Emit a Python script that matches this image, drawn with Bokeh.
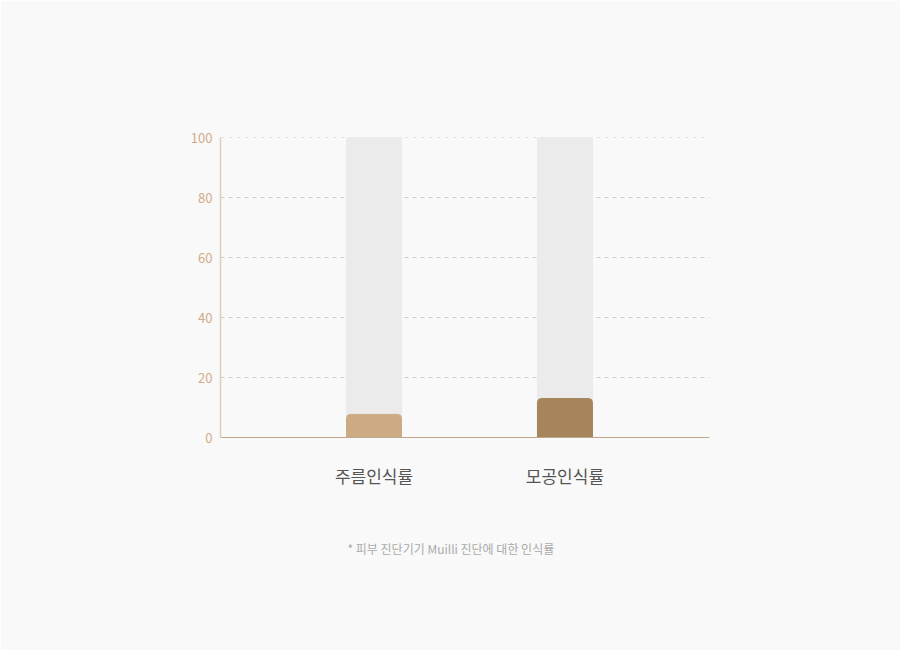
from bokeh.plotting import figure
from bokeh.models import FixedTicker, Range1d, Title
from bokeh.embed import file_html
from bokeh.resources import INLINE

# data
categories = ["주름인식률", "모공인식률"]
values = [7.7, 13]
full = [100, 100]
bar_colors = ["#ccab84", "#a6855d"]
y_ticks = [0, 20, 40, 60, 80, 100]
note = "* 피부 진단기기 Muilli 진단에 대한 인식률"

xs = list(range(len(categories)))

p = figure(
    width=900,
    height=650,
    x_range=Range1d(-0.804, 1.757),
    y_range=Range1d(0, 100.01),
    output_backend="svg",
    toolbar_location=None,
    tools="",
    min_border_left=220,
    min_border_right=191,
    min_border_top=137,
    min_border_bottom=213,
)
p.background_fill_color = "#f9f9f9"
p.border_fill_color = "#f9f9f9"
p.outline_line_color = None

# grey track behind each bar
p.vbar(x=xs, top=full, bottom=0, width=0.288, color="#ebebeb")
p.vbar(x=xs, top=values, bottom=0, width=0.288, color=bar_colors,
       border_radius=(4, 4, 0, 0))

font = "Noto Sans CJK KR"

p.xaxis.ticker = FixedTicker(ticks=xs)
p.xaxis.major_label_overrides = {i: c for i, c in zip(xs, categories)}
p.xaxis.major_label_text_font = font
p.xaxis.major_label_text_font_size = "17px"
p.xaxis.major_label_text_color = "#555555"
p.xaxis.major_label_standoff = 25
p.xaxis.axis_line_color = "#bfa68c"
p.xaxis.major_tick_line_color = None
p.xaxis.major_tick_out = 0
p.xaxis.minor_tick_line_color = None

p.yaxis.ticker = FixedTicker(ticks=y_ticks)
p.yaxis.major_label_text_font = font
p.yaxis.major_label_text_font_size = "13px"
p.yaxis.major_label_text_color = "#d0ac88"
p.yaxis.major_label_standoff = 8
p.yaxis.axis_line_color = "#dfcdb8"
p.yaxis.axis_line_width = 1.5
p.yaxis.major_tick_line_color = None
p.yaxis.major_tick_out = 0
p.yaxis.minor_tick_line_color = None

p.xgrid.grid_line_color = None
p.ygrid.grid_line_color = "#cccccc"
p.ygrid.grid_line_dash = "4 4"

p.add_layout(Title(text=note, align="left", offset=127, standoff=94,
                   text_font=font, text_font_size="12px",
                   text_font_style="normal", text_color="#aaaaaa"), "below")

open("out.html", "w").write(file_html(p, INLINE))
